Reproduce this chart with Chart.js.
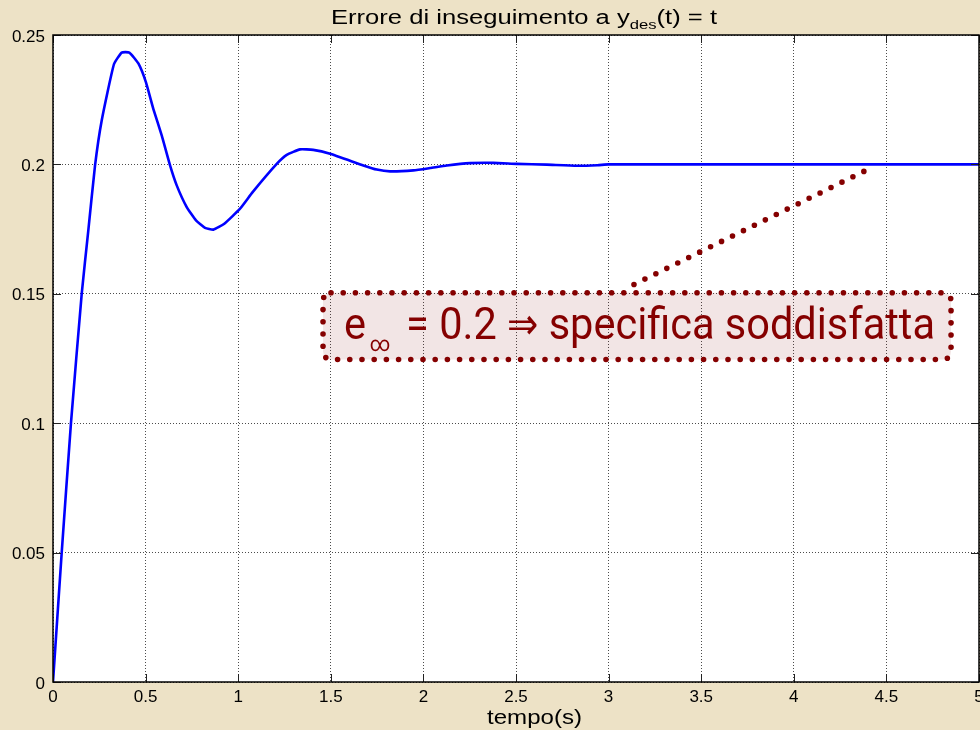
<!DOCTYPE html>
<html>
<head>
<meta charset="utf-8">
<script src="https://cdn.jsdelivr.net/npm/chart.js@4/dist/chart.umd.min.js"></script>
<style>
html,body{margin:0;padding:0;background:#EDE2C6;}
#wrap{width:980px;height:730px;}
</style>
</head>
<body>
<div id="wrap"><canvas id="c" width="980" height="730"></canvas></div>
<script>
// ---- data ----
const timeValues = [0, 0.047, 0.097, 0.155, 0.19, 0.227, 0.263, 0.329, 0.371, 0.412, 0.461, 0.502, 0.542, 0.587, 0.632, 0.668, 0.722, 0.772, 0.821, 0.866, 0.925, 1.01, 1.078, 1.208, 1.262, 1.334, 1.405, 1.496, 1.676, 1.748, 1.82, 1.946, 2.036, 2.126, 2.252, 2.378, 2.504, 2.666, 2.828, 2.94, 3.0, 5.0];
const errorValues = [0, 0.05, 0.1, 0.15, 0.174, 0.1996, 0.217, 0.2387, 0.2432, 0.2432, 0.239, 0.2317, 0.2214, 0.2112, 0.1996, 0.1919, 0.1835, 0.1784, 0.1755, 0.1748, 0.1771, 0.1829, 0.1893, 0.2002, 0.2037, 0.2058, 0.2056, 0.2041, 0.1996, 0.198, 0.1973, 0.1977, 0.1986, 0.1996, 0.2005, 0.2006, 0.2002, 0.1999, 0.1995, 0.1997, 0.2, 0.2];
const xTickValues = [0, 0.5, 1, 1.5, 2, 2.5, 3, 3.5, 4, 4.5, 5];
const yTickValues = [0, 0.05, 0.1, 0.15, 0.2, 0.25];
const titleMain = "Errore di inseguimento a y";
const titleSub = "des";
const titleEnd = "(t) = t";
const xAxisTitle = "tempo(s)";
const noteBase = "e";
const noteSub = "\u221E";
const noteRest = " = 0.2 \u21D2 specifica soddisfatta";
// annotation box and leader, in data units
const noteBox = {xMin: 1.458, xMax: 4.849, yMin: 0.1246, yMax: 0.1504};
const noteLeader = {x1: 3.137, y1: 0.1536, x2: 4.384, y2: 0.1975};

const points = timeValues.map((t, i) => ({x: t, y: errorValues[i]}));
const BG = '#EDE2C6';
const RED = '#850000';
const FONT = '"Liberation Sans", Arial, sans-serif';

function fitText(ctx, parts, x0, width, baseY) {
  let total = 0;
  parts.forEach(p => { ctx.font = p.font; p.w = ctx.measureText(p.text).width; total += p.w + (p.gap || 0); });
  ctx.save();
  ctx.translate(x0, baseY);
  ctx.scale(width / total, 1);
  let x = 0;
  parts.forEach(p => { ctx.font = p.font; ctx.fillText(p.text, x, p.dy || 0); x += p.w + (p.gap || 0); });
  ctx.restore();
}

const decor = {
  id: 'decor',
  beforeDraw(chart) {
    const {ctx, chartArea: a} = chart;
    ctx.save();
    ctx.fillStyle = BG;
    ctx.fillRect(0, 0, chart.width, chart.height);
    ctx.fillStyle = '#ffffff';
    ctx.fillRect(a.left, a.top, a.right - a.left, a.bottom - a.top);
    ctx.restore();
  },
  afterDraw(chart) {
    const {ctx, chartArea: a, scales} = chart;
    const xs = scales.x, ys = scales.y;
    ctx.save();
    // inward ticks
    ctx.strokeStyle = '#222';
    ctx.lineWidth = 1;
    ctx.beginPath();
    xTickValues.forEach(v => {
      const px = Math.round(xs.getPixelForValue(v)) + 0.5;
      ctx.moveTo(px, a.bottom); ctx.lineTo(px, a.bottom - 8);
      ctx.moveTo(px, a.top); ctx.lineTo(px, a.top + 8);
    });
    yTickValues.forEach(v => {
      const py = Math.round(ys.getPixelForValue(v)) + 0.5;
      ctx.moveTo(a.left, py); ctx.lineTo(a.left + 8, py);
      ctx.moveTo(a.right, py); ctx.lineTo(a.right - 8, py);
    });
    ctx.stroke();
    // frame
    ctx.strokeStyle = '#000';
    ctx.lineWidth = 1.5;
    ctx.strokeRect(a.left, a.top, a.right - a.left, a.bottom - a.top);

    // title with subscript
    ctx.fillStyle = '#000';
    ctx.textBaseline = 'alphabetic';
    ctx.textAlign = 'left';
    const big = '20px ' + FONT, small = '13px ' + FONT;
    fitText(ctx, [
      {text: titleMain, font: big},
      {text: titleSub, font: small, dy: 5},
      {text: titleEnd, font: big}
    ], 331, 386, 24);

    // x axis title
    fitText(ctx, [{text: xAxisTitle, font: '20px ' + FONT}], 487, 95, 724);

    // annotation box
    const bx1 = xs.getPixelForValue(noteBox.xMin), bx2 = xs.getPixelForValue(noteBox.xMax);
    const by1 = ys.getPixelForValue(noteBox.yMax), by2 = ys.getPixelForValue(noteBox.yMin);
    ctx.beginPath();
    ctx.roundRect(bx1, by1, bx2 - bx1, by2 - by1, 8);
    ctx.fillStyle = 'rgba(128,0,0,0.10)';
    ctx.fill();
    ctx.setLineDash([0, 12.2]);
    ctx.lineCap = 'round';
    ctx.lineWidth = 5.6;
    ctx.strokeStyle = RED;
    ctx.stroke();
    // leader
    ctx.beginPath();
    ctx.moveTo(xs.getPixelForValue(noteLeader.x1), ys.getPixelForValue(noteLeader.y1));
    ctx.lineTo(xs.getPixelForValue(noteLeader.x2), ys.getPixelForValue(noteLeader.y2));
    ctx.stroke();
    ctx.setLineDash([]);

    // annotation text
    const nf = 'Roboto, "Liberation Sans Narrow", "DejaVu Sans Condensed", sans-serif';
    ctx.fillStyle = RED;
    fitText(ctx, [
      {text: noteBase, font: '44px ' + nf, gap: 4},
      {text: noteSub, font: '21px ' + nf, dy: 12, gap: 6},
      {text: noteRest, font: '44px ' + nf}
    ], 344, 591, 339);
    ctx.restore();
  }
};

new Chart(document.getElementById('c'), {
  type: 'line',
  data: {
    datasets: [{
      data: points,
      borderColor: '#0000FF',
      borderWidth: 2.6,
      pointRadius: 0,
      fill: false,
      tension: 0.15
    }]
  },
  options: {
    responsive: false,
    animation: false,
    events: [],
    layout: {padding: {top: 35, right: 1, left: 0, bottom: 0}},
    plugins: {legend: {display: false}, tooltip: {enabled: false}, title: {display: false}},
    scales: {
      x: {
        type: 'linear', min: 0, max: 5,
        afterBuildTicks(s) { s.ticks = xTickValues.map(v => ({value: v})); },
        afterFit(s) { s.height = 48; s.paddingLeft = 0; s.paddingRight = 0; },
        ticks: {color: '#000', font: {size: 17, family: FONT}, padding: 5, maxRotation: 0, autoSkip: false,
                callback: v => String(v)},
        grid: {color: 'rgba(0,0,0,0.7)', lineWidth: 1, drawTicks: false},
        border: {display: false, dash: [1, 2]}
      },
      y: {
        type: 'linear', min: 0, max: 0.25,
        afterBuildTicks(s) { s.ticks = yTickValues.map(v => ({value: v})); },
        afterFit(s) { s.width = 53; s.paddingTop = 0; s.paddingBottom = 0; },
        ticks: {color: '#000', font: {size: 17, family: FONT}, padding: 8, autoSkip: false, labelOffset: 2,
                callback: v => String(v)},
        grid: {color: 'rgba(0,0,0,0.7)', lineWidth: 1, drawTicks: false},
        border: {display: false, dash: [1, 2]}
      }
    }
  },
  plugins: [decor]
});
</script>
</body>
</html>
